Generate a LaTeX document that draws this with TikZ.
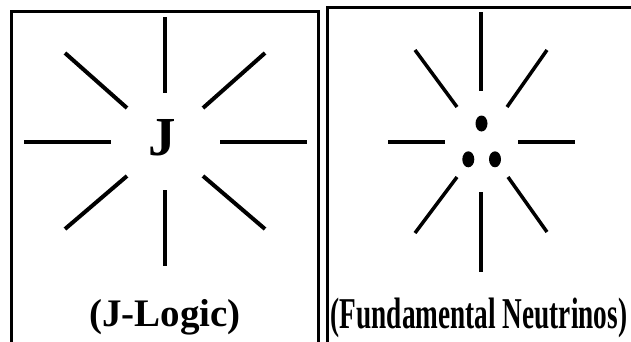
\documentclass[tikz,border=0pt]{standalone}
\usepackage{fontspec}
\setmainfont{Liberation Serif}
\begin{document}
\begin{tikzpicture}[x=1pt,y=-1pt,
  frame/.style={line width=3pt},
  rayL/.style={line width=4pt},
  rayR/.style={line width=3.5pt},
  dot/.style={fill=black,ellipse},
  lbl/.style={font=\bfseries, inner sep=0pt}]
\useasboundingbox (0,0) rectangle (631,341);
\fill[white] (0,0) rectangle (631,341);
% frames
\draw[frame] (11.5,350) -- (11.5,11.5) -- (318.5,11.5) -- (318.5,350);
\draw[frame] (327.5,350) -- (327.5,7.5) -- (640,7.5);
% left star
\draw[rayL] (165,17) -- (165,93);
\draw[rayL] (165,190) -- (165,266);
\draw[rayL] (24,142) -- (111,142);
\draw[rayL] (220,142) -- (307,142);
\draw[rayL] (65,53) -- (127,108);
\draw[rayL] (203,108) -- (265,53);
\draw[rayL] (127,176) -- (65,229);
\draw[rayL] (203,176) -- (265,229);
\node[lbl, font=\bfseries\fontsize{55}{60}\selectfont, anchor=base] (j) at (162,155) {J};
\node[lbl, font=\bfseries\fontsize{39}{44}\selectfont, anchor=base] (jl) at (165,326) {(J-Logic)};
% right star
\draw[rayR] (481,12) -- (481,91);
\draw[rayR] (481,192) -- (481,272);
\draw[rayR] (388,142) -- (445,142);
\draw[rayR] (518,142) -- (575,142);
\draw[rayR] (415,50) -- (457,107);
\draw[rayR] (507,107) -- (547,50);
\draw[rayR] (457,177) -- (415,233);
\draw[rayR] (508,177) -- (547,232);
\fill (481.5,123.5) ellipse [x radius=6, y radius=8];
\fill (468.3,159.3) ellipse [x radius=6, y radius=8];
\fill (495,159.3) ellipse [x radius=6, y radius=8];
\node[lbl, anchor=base] (fn) at (479,328) {\scalebox{0.62}[1]{\fontsize{44}{48}\selectfont\bfseries (Fundamental Neutrinos)}};
\end{tikzpicture}
\end{document}
